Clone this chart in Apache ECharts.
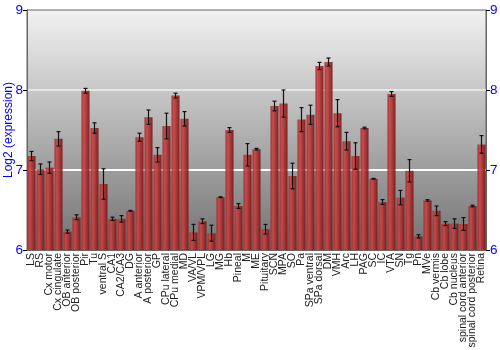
<!DOCTYPE html>
<html>
<head>
<meta charset="utf-8">
<script src="https://cdn.jsdelivr.net/npm/echarts@6/dist/echarts.min.js"></script>
<style>
  html, body { margin: 0; padding: 0; background: #fff; }
  #main { width: 500px; height: 350px; }
</style>
</head>
<body>
<div id="main"></div>
<script>
// 脑区名称
let regions = ['LS', 'RS', 'Cx motor', 'Cx cingulate', 'OB anterior', 'OB posterior', 'Pir', 'Tu',
    'ventral S', 'CA1', 'CA2/CA3', 'DG', 'A anterior', 'A posterior', 'GP', 'CPu lateral', 'CPu medial',
    'MD', 'VA/VL', 'VPM/VPL', 'LG', 'MG', 'Hb', 'Pineal', 'M', 'ME', 'Pituitary', 'SCN', 'MPA', 'SO',
    'Pa', 'SPa ventral', 'SPa dorsal', 'DM', 'VMH', 'Arc', 'LH', 'PAG', 'SC', 'IC', 'VTA', 'SN', 'Tg',
    'Pn', 'MVe', 'Cb vermis', 'Cb lobe', 'Cb nucleus', 'spinal cord anterior', 'spinal cord posterior', 'Retina'];
// 表达量均值
let means = [7.175, 7.01, 7.03, 7.39, 6.23, 6.41, 7.99, 7.525,
    6.825, 6.39, 6.39, 6.49, 7.41, 7.66, 7.19, 7.55, 7.93,
    7.64, 6.22, 6.36, 6.21, 6.66, 7.50, 6.55, 7.19, 7.26, 6.26, 7.80, 7.83, 6.925,
    7.63, 7.69, 8.30, 8.35, 7.71, 7.36, 7.175, 7.525, 6.89, 6.60, 7.95, 6.655, 6.99,
    6.17, 6.62, 6.49, 6.33, 6.33, 6.325, 6.55, 7.32];
// 误差 (±)
let errs = [0.057, 0.066, 0.07, 0.09, 0.02, 0.03, 0.03, 0.065,
    0.19, 0.02, 0.04, 0.005, 0.05, 0.09, 0.09, 0.16, 0.03,
    0.09, 0.1, 0.03, 0.1, 0.005, 0.03, 0.03, 0.14, 0.01, 0.06, 0.06, 0.17, 0.16,
    0.15, 0.12, 0.045, 0.05, 0.17, 0.11, 0.165, 0.01, 0.005, 0.03, 0.03, 0.09, 0.14,
    0.02, 0.01, 0.06, 0.025, 0.06, 0.08, 0.01, 0.11];
let yTicks = [6, 7, 8, 9];

let errData = means.map((m, i) => [i, m - errs[i], m + errs[i]]);

let chart = echarts.init(document.getElementById('main'));

let yAxisCommon = {
    type: 'value',
    min: yTicks[0],
    max: yTicks[yTicks.length - 1],
    interval: 1,
    axisLine: { show: true, lineStyle: { color: '#666' } },
    axisTick: { show: true, length: 4, lineStyle: { color: '#000' } },
    axisLabel: { color: '#0000ff', fontSize: 13.5, fontFamily: 'Liberation Sans', margin: 4 }
};

let option = {
    animation: false,
    backgroundColor: '#fff',
    grid: {
        left: 27, right: 14, top: 10, bottom: 100,
        outerBoundsMode: 'none',
        containLabel: false,
        show: true,
        borderColor: '#666',
        borderWidth: 1,
        backgroundColor: new echarts.graphic.LinearGradient(0, 0, 0, 1, [
            { offset: 0, color: '#f2f2f2' },
            { offset: 1, color: '#727272' }
        ])
    },
    xAxis: {
        type: 'category',
        data: regions,
        axisLine: { show: true, lineStyle: { color: '#666' } },
        axisTick: { show: false },
        axisLabel: {
            interval: 0,
            rotate: 90,
            margin: 3,
            color: '#222',
            fontSize: 10.5,
            fontFamily: 'Liberation Sans'
        }
    },
    yAxis: [
        Object.assign({}, yAxisCommon, {
            position: 'left',
            name: 'Log2 (expression)',
            nameLocation: 'middle',
            nameGap: 12,
            nameMoveOverlap: false,
            nameTextStyle: { color: '#0000ff', fontSize: 12, fontFamily: 'Liberation Sans' },
            splitLine: {
                show: true,
                lineStyle: { color: ['rgba(0,0,0,0)', '#ffffff', '#e6e6e6', 'rgba(0,0,0,0)'], width: 2 }
            }
        }),
        Object.assign({}, yAxisCommon, {
            position: 'right',
            splitLine: { show: false }
        })
    ],
    series: [
        {
            type: 'bar',
            data: means,
            barCategoryGap: '10%',
            itemStyle: {
                opacity: 0.92,
                color: new echarts.graphic.LinearGradient(0, 0, 1, 0, [
                    { offset: 0, color: '#a32a2a' },
                    { offset: 0.3, color: '#c94646' },
                    { offset: 1, color: '#7a1616' }
                ])
            }
        },
        {
            type: 'custom',
            data: errData,
            z: 5,
            renderItem: function (params, api) {
                let x = api.coord([api.value(0), api.value(1)])[0];
                let lo = api.coord([api.value(0), api.value(1)])[1];
                let hi = api.coord([api.value(0), api.value(2)])[1];
                let cap = 2;
                let style = { stroke: '#111', lineWidth: 1.2 };
                return {
                    type: 'group',
                    children: [
                        { type: 'line', shape: { x1: x, y1: lo, x2: x, y2: hi }, style: style },
                        { type: 'line', shape: { x1: x - cap, y1: lo, x2: x + cap, y2: lo }, style: style },
                        { type: 'line', shape: { x1: x - cap, y1: hi, x2: x + cap, y2: hi }, style: style }
                    ]
                };
            }
        }
    ]
};

chart.setOption(option);
</script>
</body>
</html>
